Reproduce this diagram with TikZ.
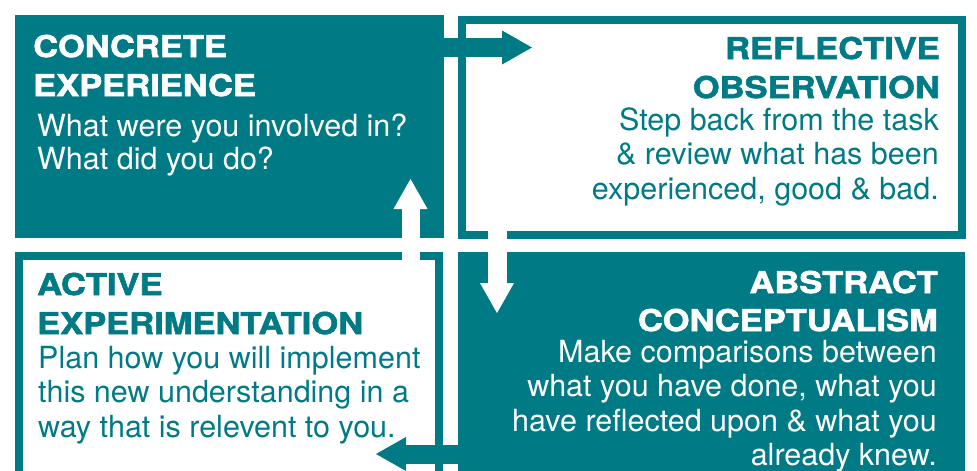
\documentclass[tikz,border=0pt]{standalone}
\usepackage{fontspec}
\setmainfont{TeX Gyre Heros}
\newfontfamily\headfont{TeX Gyre Heros}[FakeStretch=1.15,BoldFeatures={FakeBold=2}]
\usetikzlibrary{calc,arrows.meta}
\definecolor{cycleteal}{RGB}{0,123,134}

\begin{document}
\begin{tikzpicture}[x=1pt,y=-1pt,
    solid box/.style={fill=cycleteal,anchor=north west,inner sep=0,outer sep=0},
    open box/.style={draw=cycleteal,line width=8pt,anchor=north west,inner sep=0,outer sep=0},
    head/.style={inner sep=0,font=\headfont\bfseries\fontsize{30}{32}\selectfont},
    body/.style={inner sep=0,font=\fontsize{30.5}{33}\selectfont},
    block/.style={line width=19pt,-{Triangle[width=34pt,length=30pt,line width=0pt]}}]

    \useasboundingbox (0,0) rectangle (977,471);
    \clip (0,0) rectangle (977,471);

    % the four stages
    \node[solid box,minimum width=429pt,minimum height=223pt] (ce) at (15,15) {};
    \node[open box,minimum width=500pt,minimum height=215pt] (ro) at (462,20) {};
    \node[open box,minimum width=420pt,minimum height=264pt] (ae) at (19,256) {};
    \node[solid box,minimum width=507pt,minimum height=260pt] (ac) at (458,252) {};

    % arrows round the cycle
    \coordinate (roIn) at (532,47.5);
    \coordinate (acIn) at (497,313);
    \coordinate (roOut) at (497,215);
    \coordinate (aeIn) at (376,454);
    \coordinate (ceIn) at (410.5,179);
    \coordinate (aeOut) at (410.5,285);

    \draw[block,cycleteal] (ce.east |- roIn) -- (roIn);
    \draw[block,white] (roOut) -- (acIn);
    \draw[block,cycleteal] (ac.west |- aeIn) -- (aeIn);
    \draw[block,white,line width=18pt] (aeOut) -- (ceIn);

    % concrete experience
    \node[head,white,anchor=base west] (ceH1) at ($(ce.north west)+(18,42)$) {CONCRETE};
    \node[head,white,anchor=base west] (ceH2) at ($(ceH1.base west)+(0,39)$) {EXPERIENCE};
    \foreach \txt [count=\i] in {What were you involved in?, What did you do?}
        \node[body,white,anchor=base west] (ceB\i) at ($(ceH2.base west)+(4,{40+33*(\i-1)})$) {\txt};

    % reflective observation
    \node[head,cycleteal,anchor=base east] (roH1) at ($(ro.north east)+(-22,39)$) {REFLECTIVE};
    \node[head,cycleteal,anchor=base east] (roH2) at ($(roH1.base east)+(0,39)$) {OBSERVATION};
    \foreach \txt [count=\i] in {Step back from the task, {\& review what has been}, {experienced, good \& bad.}}
        \node[body,cycleteal,anchor=base east] (roB\i) at ($(roH2.base east)+(-1,{32+34.5*(\i-1)})$) {\txt};

    % active experimentation
    \node[head,cycleteal,anchor=base west] (aeH1) at ($(ae.north west)+(18,39)$) {ACTIVE};
    \node[head,cycleteal,anchor=base west] (aeH2) at ($(aeH1.base west)+(0,39)$) {EXPERIMENTATION};
    \foreach \txt [count=\i] in {Plan how you will implement, this new understanding in a, way that is relevent to you.}
        \node[body,cycleteal,anchor=base west] (aeB\i) at ($(aeH2.base west)+(1,{34+34.5*(\i-1)})$) {\txt};

    % abstract conceptualism
    \node[head,white,anchor=base east] (acH1) at ($(ac.north east)+(-27,41)$) {ABSTRACT};
    \node[head,white,anchor=base east] (acH2) at ($(acH1.base east)+(0,38)$) {CONCEPTUALISM};
    \foreach \txt [count=\i] in {Make comparisons between, {what you have done, what you}, {have reflected upon \& what you}, already knew.}
        \node[body,white,anchor=base east] (acB\i) at ($(acH2.base east)+(-1,{31+34.5*(\i-1)})$) {\txt};
\end{tikzpicture}
\end{document}
